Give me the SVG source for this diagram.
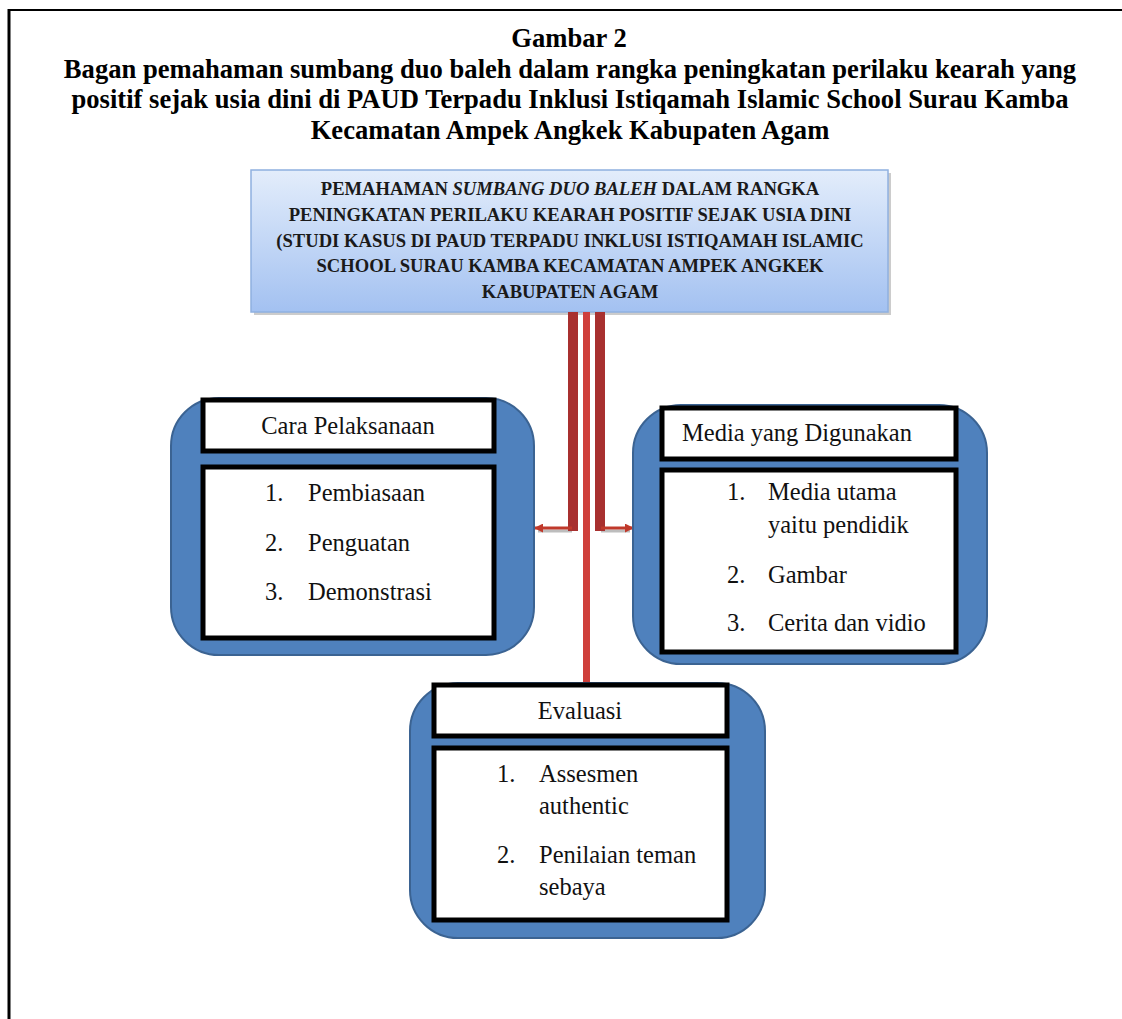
<svg xmlns="http://www.w3.org/2000/svg" width="1122" height="1019" viewBox="0 0 1122 1019">
<defs>
<linearGradient id="hdrGrad" x1="0" y1="0" x2="0" y2="1">
<stop offset="0" stop-color="#e3edfb"/>
<stop offset="1" stop-color="#a3c1f1"/>
</linearGradient>
<marker id="arrowL" viewBox="0 0 10 10" refX="9" refY="5" markerWidth="3" markerHeight="3" orient="auto">
<path d="M0,0 L10,5 L0,10 z" fill="#c0392b"/>
</marker>
<style>
.title{font-family:"Liberation Serif","Times New Roman",serif;font-weight:bold;font-size:26.6px;fill:#000;text-anchor:middle}
.hdr{font-family:"Liberation Serif","Times New Roman",serif;font-weight:bold;font-size:18.6px;fill:#1a1a1a;text-anchor:middle}
.blue{fill:#4f81bd;stroke:#3b6392;stroke-width:2}
.wbox{fill:#fff;stroke:#000;stroke-width:5}
.lbl{font-family:"Liberation Serif","Times New Roman",serif;font-size:24.5px;fill:#111}
.mid{text-anchor:middle}
.bar{fill:#a8302f}
.barc{fill:#cf3f3b}
.arr{stroke:#c0392b;stroke-width:3;fill:none}
.shd{stroke:#bdbdbd;stroke-width:3;fill:none}
</style>
</defs>
<rect x="0" y="0" width="1122" height="1019" fill="#fff"/>
<g id="frame">
<line x1="8" y1="10" x2="1122" y2="10" stroke="#000" stroke-width="2"/>
<line x1="9" y1="9" x2="9" y2="1019" stroke="#000" stroke-width="3"/>
</g>
<g id="caption">
<text class="title" x="569" y="47">Gambar 2</text>
<text class="title" x="570" y="78">Bagan pemahaman sumbang duo baleh dalam rangka peningkatan perilaku kearah yang</text>
<text class="title" x="570" y="108">positif sejak usia dini di PAUD Terpadu Inklusi Istiqamah Islamic School Surau Kamba</text>
<text class="title" x="570" y="139">Kecamatan Ampek Angkek Kabupaten Agam</text>
</g>
<g id="header">
<rect x="254" y="173" width="637" height="142" fill="#9a9a9a" opacity="0.5"/>
<rect x="251" y="170" width="637" height="142" fill="url(#hdrGrad)" stroke="#8fb0e0" stroke-width="1.5"/>
<text class="hdr" x="570" y="195">PEMAHAMAN <tspan font-style="italic">SUMBANG DUO BALEH</tspan> DALAM RANGKA</text>
<text class="hdr" x="570" y="221">PENINGKATAN PERILAKU KEARAH  POSITIF SEJAK USIA DINI</text>
<text class="hdr" x="570" y="247">(STUDI KASUS DI PAUD TERPADU INKLUSI ISTIQAMAH ISLAMIC</text>
<text class="hdr" x="570" y="272">SCHOOL SURAU KAMBA KECAMATAN AMPEK ANGKEK</text>
<text class="hdr" x="570" y="298">KABUPATEN AGAM</text>
</g>
<g id="connectors">
<line class="shd" x1="572" y1="531" x2="538" y2="531"/>
<line class="shd" x1="601" y1="531" x2="630" y2="531"/>
<rect class="bar" x="568" y="312" width="10" height="219"/>
<rect class="bar" x="595" y="312" width="10" height="219"/>
<rect class="barc" x="583" y="312" width="7" height="371"/>
<line class="arr" x1="572" y1="528" x2="535" y2="528" marker-end="url(#arrowL)"/>
<line class="arr" x1="601" y1="528" x2="633" y2="528" marker-end="url(#arrowL)"/>
</g>
<g id="node-cara">
<rect class="blue" x="171" y="398" width="363" height="257" rx="48" ry="48"/>
<rect class="wbox" x="203" y="400" width="291" height="51"/>
<text class="lbl mid" x="348" y="434">Cara Pelaksanaan</text>
<rect class="wbox" x="203" y="467" width="291" height="171"/>
<text class="lbl" x="265" y="501">1.</text><text class="lbl" x="308" y="501">Pembiasaan</text>
<text class="lbl" x="265" y="551">2.</text><text class="lbl" x="308" y="551">Penguatan</text>
<text class="lbl" x="265" y="600">3.</text><text class="lbl" x="308" y="600">Demonstrasi</text>
</g>
<g id="node-media">
<rect class="blue" x="633" y="405" width="354" height="259" rx="48" ry="48"/>
<rect class="wbox" x="662" y="408" width="294" height="51"/>
<text class="lbl" x="682" y="441">Media yang Digunakan</text>
<rect class="wbox" x="662" y="470" width="294" height="182"/>
<text class="lbl" x="727" y="500">1.</text><text class="lbl" x="768" y="500">Media utama</text>
<text class="lbl" x="768" y="533">yaitu pendidik</text>
<text class="lbl" x="727" y="583">2.</text><text class="lbl" x="768" y="583">Gambar</text>
<text class="lbl" x="727" y="631">3.</text><text class="lbl" x="768" y="631">Cerita dan vidio</text>
</g>
<g id="node-evaluasi">
<rect class="blue" x="410" y="683" width="355" height="255" rx="48" ry="48"/>
<rect class="wbox" x="434" y="685" width="293" height="51"/>
<text class="lbl mid" x="580" y="719">Evaluasi</text>
<rect class="wbox" x="434" y="748" width="293" height="172"/>
<text class="lbl" x="497" y="782">1.</text><text class="lbl" x="539" y="782">Assesmen</text>
<text class="lbl" x="539" y="814">authentic</text>
<text class="lbl" x="497" y="863">2.</text><text class="lbl" x="539" y="863">Penilaian teman</text>
<text class="lbl" x="539" y="895">sebaya</text>
</g>
</svg>
